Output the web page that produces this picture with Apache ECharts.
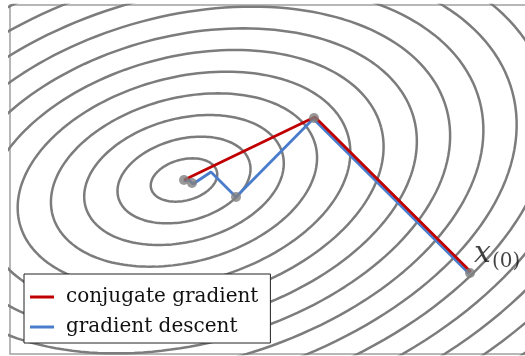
<!DOCTYPE html>
<html>
<head>
<meta charset="utf-8">
<script src="https://cdn.jsdelivr.net/npm/echarts@6/dist/echarts.min.js"></script>
<style>
  html, body { margin: 0; padding: 0; background: #fff; }
  #chart { width: 525px; height: 356px; }
</style>
</head>
<body>
<div id="chart"></div>
<script>
// Quadratic bowl: its level sets are concentric, tilted ellipses
const bowlCenter = [17.4, 17.4];
const bowlSemiAxes = [3.40, 2.05];   // semi-axes of the unit level set
const bowlTiltDeg = 15;              // tilt of the major axis
const contourLevels = [1, 2, 3, 4, 5, 6, 7, 8, 9, 10, 11, 12, 13, 14, 15, 16];

// Iterates of the two methods, starting from x(0)
const cgPath = [[46.09, 8.19], [30.49, 23.69], [17.4, 17.4]];
const gdPath = [[45.93, 8.03], [30.33, 23.53], [22.6, 15.7], [20.1, 18.2],
                [18.3, 17.0], [17.8, 17.5], [17.55, 17.3], [17.4, 17.4]];
const iterates = [[46.0, 8.1], [30.4, 23.6], [22.6, 15.7], [18.2, 17.1], [17.4, 17.4]];
const startName = 'x(0)';

const seriesNames = ['conjugate gradient', 'gradient descent'];

function ellipse(level) {
  const th = bowlTiltDeg * Math.PI / 180;
  const u = [Math.cos(th), Math.sin(th)], v = [-Math.sin(th), Math.cos(th)];
  const pts = [];
  for (let d = 0; d <= 360; d += 2) {
    const t = d * Math.PI / 180;
    const p = level * bowlSemiAxes[0] * Math.cos(t), q = level * bowlSemiAxes[1] * Math.sin(t);
    pts.push([bowlCenter[0] + p * u[0] + q * v[0], bowlCenter[1] + p * u[1] + q * v[1]]);
  }
  return pts;
}

const contourSeries = contourLevels.map(k => ({
  type: 'line', name: 'level ' + k, data: ellipse(k), showSymbol: false, silent: true,
  lineStyle: { color: '#7c7c7c', width: 2.5 }, z: 1, clip: true, animation: false
}));

const chart = echarts.init(document.getElementById('chart'));
chart.setOption({
  animation: false,
  grid: { left: 10, top: 5, width: 520, height: 349, outerBoundsMode: 'none', containLabel: false,
          show: true, borderColor: '#a0a0a0', borderWidth: 1.5, backgroundColor: 'transparent' },
  xAxis: { type: 'value', min: 0, max: 52, show: false },
  yAxis: { type: 'value', min: 0, max: 34.9, show: false },
  legend: {
    data: seriesNames, orient: 'vertical', left: 24, top: 274,
    padding: [11, 12, 4, 6], itemGap: 6, itemWidth: 24, itemHeight: 3, icon: 'rect',
    backgroundColor: '#fff', borderColor: '#222', borderWidth: 1, borderRadius: 0,
    textStyle: { fontFamily: 'DejaVu Serif', fontSize: 20, color: '#111', lineHeight: 24, padding: [0, 0, 0, 7] }
  },
  series: contourSeries.concat([
    { type: 'line', name: seriesNames[1], data: gdPath, showSymbol: false, z: 3,
      color: '#4a7ccc', lineStyle: { color: '#4a7ccc', width: 2.8 } },
    { type: 'line', name: seriesNames[0], data: cgPath, showSymbol: false, z: 4,
      color: '#c00000', lineStyle: { color: '#c00000', width: 2.8 } },
    { type: 'scatter', name: 'iterates', data: iterates.map((p, i) => i === 0 ? { value: p, name: startName,
        label: { show: true, position: 'right', offset: [-6, -19],
          formatter: '{x|x}{s|(0)}',
          rich: {
            x: { fontFamily: 'DejaVu Serif', fontStyle: 'italic', fontSize: 30, color: '#111' },
            s: { fontFamily: 'DejaVu Serif', fontSize: 20, color: '#111', padding: [16, 0, 0, 1] }
          } } } : p),
      symbolSize: 10, itemStyle: { color: '#7f7f7f' }, z: 5 }
  ])
});
</script>
</body>
</html>
